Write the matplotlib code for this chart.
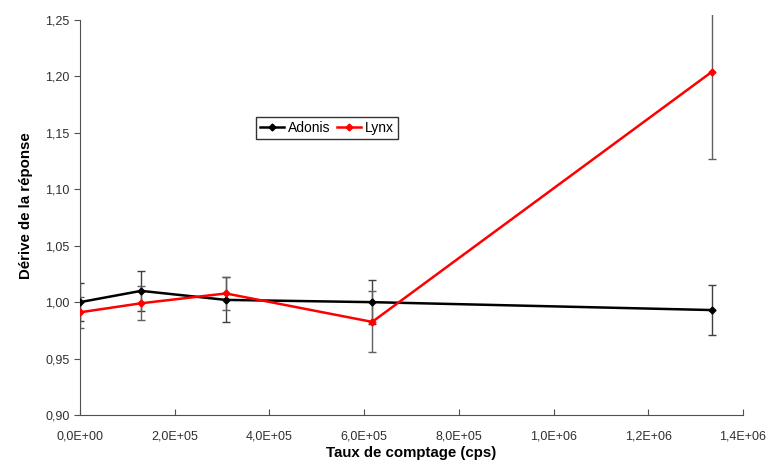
import matplotlib.pyplot as plt
from matplotlib.ticker import FuncFormatter

plt.rcParams['font.family'] = ['Liberation Sans', 'DejaVu Sans']

# count rates (cps) and response drift for each detector
x = [0, 1.29e5, 3.08e5, 6.17e5, 1.334e6]
adonis = [1.000, 1.010, 1.002, 1.000, 0.993]
adonis_err = [0.017, 0.018, 0.020, 0.0195, 0.0225]
lynx = [0.991, 0.999, 1.0077, 0.9825, 1.204]
lynx_err = [0.014, 0.015, 0.015, 0.027, 0.077]

fig = plt.figure(figsize=(7.67, 4.65), dpi=100)
ax = fig.add_axes([0.1043, 0.1075, 0.8644, 0.8592])

ax.errorbar(x, adonis, yerr=adonis_err, fmt='none', ecolor='#404040',
            elinewidth=1, capsize=3, capthick=1, zorder=2)
ax.errorbar(x, lynx, yerr=lynx_err, fmt='none', ecolor='#606060',
            elinewidth=1, capsize=3, capthick=1, zorder=2)
ax.plot(x, adonis, color='black', lw=1.8, marker='D', ms=3.5, label='Adonis', zorder=3)
ax.plot(x, lynx, color='red', lw=1.8, marker='D', ms=3.5, label='Lynx', zorder=4)

ax.set_xlim(0, 1.4e6)
ax.set_ylim(0.90, 1.254)
ax.set_xticks([i * 2e5 for i in range(8)])
ax.set_yticks([0.90 + i * 0.05 for i in range(8)])

ax.xaxis.set_major_formatter(FuncFormatter(
    lambda v, p: ('%.1E' % v).replace('.', ',')))
ax.yaxis.set_major_formatter(FuncFormatter(
    lambda v, p: ('%.2f' % v).replace('.', ',')))

for s in ['top', 'right']:
    ax.spines[s].set_visible(False)
ax.spines['left'].set_bounds(0.90, 1.25)
ax.spines['left'].set_color('#505050')
ax.spines['bottom'].set_color('#505050')
ax.tick_params(axis='y', direction='out', length=4, color='#505050',
               labelsize=9, labelcolor='#303030')
ax.tick_params(axis='x', direction='in', length=4, color='#505050',
               labelsize=9, labelcolor='#303030', pad=11)

ax.set_xlabel('Taux de comptage (cps)', fontsize=10.8, fontweight='bold', labelpad=3)
ax.set_ylabel('Dérive de la réponse', fontsize=10.8, fontweight='bold')
ax.yaxis.set_label_coords(-0.071, 0.524)

leg = ax.legend(loc='center', bbox_to_anchor=(0.3725, 0.718), ncol=2,
                fontsize=10, frameon=True, fancybox=False, handlelength=1.7,
                handletextpad=0.3, columnspacing=0.5, borderpad=0.3,
                borderaxespad=0)
leg.get_frame().set_edgecolor('black')
leg.get_frame().set_linewidth(1)

plt.savefig('out.png', dpi=100)
